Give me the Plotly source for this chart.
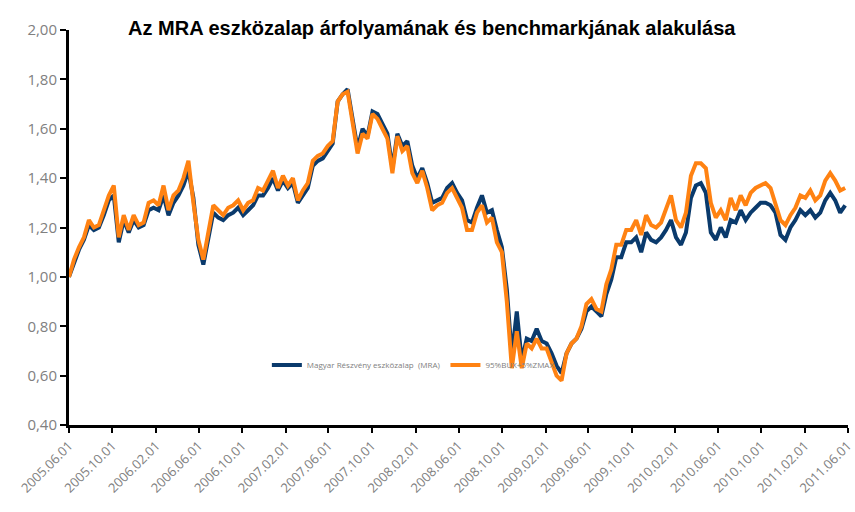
import plotly.graph_objects as go
import pandas as pd

# Magyar Részvény eszközalap (MRA) - biweekly readings from 2005.06.01
mra = [1.00, 1.06, 1.11, 1.15, 1.21, 1.19, 1.20, 1.25, 1.31, 1.33,
       1.14, 1.23, 1.18, 1.23, 1.20, 1.21, 1.27, 1.28, 1.27, 1.33,
       1.25, 1.30, 1.33, 1.37, 1.43, 1.32, 1.13, 1.05, 1.15, 1.26,
       1.24, 1.23, 1.25, 1.26, 1.28, 1.25, 1.27, 1.29, 1.33, 1.33,
       1.36, 1.40, 1.35, 1.39, 1.36, 1.38, 1.30, 1.33, 1.36, 1.45,
       1.47, 1.48, 1.51, 1.54, 1.71, 1.74, 1.76, 1.65, 1.52, 1.60,
       1.57, 1.67, 1.66, 1.62, 1.58, 1.44, 1.58, 1.53, 1.55, 1.45,
       1.40, 1.44, 1.38, 1.30, 1.31, 1.32, 1.36, 1.38, 1.34, 1.31,
       1.23, 1.22, 1.28, 1.33, 1.26, 1.27, 1.19, 1.12, 0.95, 0.68,
       0.86, 0.66, 0.75, 0.74, 0.79, 0.74, 0.73, 0.69, 0.64, 0.61,
       0.69, 0.73, 0.75, 0.79, 0.86, 0.88, 0.86, 0.84, 0.93, 0.99,
       1.08, 1.08, 1.14, 1.14, 1.16, 1.10, 1.18, 1.15, 1.14, 1.16,
       1.19, 1.23, 1.16, 1.13, 1.18, 1.32, 1.37, 1.38, 1.34, 1.18,
       1.15, 1.20, 1.16, 1.23, 1.22, 1.27, 1.23, 1.26, 1.28, 1.30,
       1.30, 1.29, 1.26, 1.17, 1.15, 1.20, 1.23, 1.27, 1.25, 1.27,
       1.24, 1.26, 1.31, 1.34, 1.31, 1.26, 1.29]

# benchmark: 95%BUX+5%ZMAX
benchmark = [1.00, 1.07, 1.12, 1.16, 1.23, 1.20, 1.21, 1.27, 1.33, 1.37,
             1.16, 1.25, 1.19, 1.25, 1.21, 1.22, 1.30, 1.31, 1.29, 1.37,
             1.27, 1.33, 1.35, 1.40, 1.47, 1.30, 1.15, 1.07, 1.18, 1.29,
             1.27, 1.25, 1.28, 1.29, 1.31, 1.27, 1.30, 1.31, 1.36, 1.35,
             1.39, 1.43, 1.36, 1.41, 1.37, 1.40, 1.31, 1.35, 1.38, 1.47,
             1.49, 1.50, 1.53, 1.55, 1.71, 1.74, 1.75, 1.63, 1.50, 1.58,
             1.56, 1.66, 1.64, 1.60, 1.56, 1.42, 1.57, 1.51, 1.53, 1.42,
             1.38, 1.43, 1.36, 1.27, 1.29, 1.30, 1.34, 1.36, 1.32, 1.28,
             1.19, 1.19, 1.26, 1.29, 1.22, 1.24, 1.14, 1.10, 0.90, 0.63,
             0.78, 0.63, 0.73, 0.71, 0.75, 0.71, 0.71, 0.66, 0.60, 0.58,
             0.69, 0.73, 0.75, 0.80, 0.89, 0.91, 0.87, 0.86, 0.97, 1.03,
             1.13, 1.13, 1.19, 1.19, 1.23, 1.17, 1.25, 1.21, 1.20, 1.22,
             1.27, 1.33, 1.23, 1.20, 1.26, 1.41, 1.46, 1.46, 1.44, 1.30,
             1.24, 1.27, 1.23, 1.32, 1.27, 1.33, 1.29, 1.34, 1.36, 1.37,
             1.38, 1.36, 1.29, 1.23, 1.21, 1.25, 1.28, 1.33, 1.32, 1.35,
             1.31, 1.33, 1.39, 1.42, 1.39, 1.35, 1.36]

dates = pd.date_range("2005-06-01", periods=len(mra), freq="14D")

tick_labels = ["2005.06.01", "2005.10.01", "2006.02.01", "2006.06.01",
               "2006.10.01", "2007.02.01", "2007.06.01", "2007.10.01",
               "2008.02.01", "2008.06.01", "2008.10.01", "2009.02.01",
               "2009.06.01", "2009.10.01", "2010.02.01", "2010.06.01",
               "2010.10.01", "2011.02.01", "2011.06.01"]
tick_dates = [pd.Timestamp(t.replace(".", "-")) for t in tick_labels]

fig = go.Figure()
fig.add_trace(go.Scatter(x=dates, y=mra, mode="lines",
                         name="Magyar Részvény eszközalap  (MRA)",
                         line=dict(color="#0A3A6C", width=4)))
fig.add_trace(go.Scatter(x=dates, y=benchmark, mode="lines",
                         name="95%BUX+5%ZMAX",
                         line=dict(color="#FF8212", width=4)))

fig.update_layout(
    width=855, height=512,
    margin=dict(l=69, r=7, t=30, b=87),
    plot_bgcolor="white", paper_bgcolor="white",
    separators=", ",
    title=dict(text="<b>Az MRA eszközalap árfolyamának és benchmarkjának alakulása</b>",
               x=0.505, xanchor="center", y=0.945, yanchor="middle",
               font=dict(family="Liberation Sans", size=20, color="black")),
    legend=dict(orientation="h", x=0.254, y=0.152, xanchor="left", yanchor="middle",
                bgcolor="rgba(0,0,0,0)", font=dict(size=8, color="#808080"),
                itemwidth=30),
    font=dict(family="Open Sans, Liberation Sans", color="#808080"),
)

fig.update_xaxes(
    range=[tick_dates[0], pd.Timestamp("2011-06-02")],
    tickvals=tick_dates, ticktext=tick_labels, tickangle=-45,
    showline=True, linecolor="black", linewidth=3,
    ticks="outside", ticklen=5, tickwidth=2, tickcolor="black",
    showgrid=False, zeroline=False, automargin=False,
    ticklabeloverflow="allow",
    tickfont=dict(size=13, color="#808080"),
)
fig.update_yaxes(
    range=[0.40, 2.00], dtick=0.2, tickformat=".2f",
    showline=True, linecolor="black", linewidth=3,
    ticks="outside", ticklen=6, tickwidth=2, tickcolor="black",
    showgrid=False, zeroline=False, automargin=False,
    tickfont=dict(size=15, color="#808080"),
)

# page body has a default 8px margin; remove it so the figure fills the window
fig.write_html("out.html", config={"displayModeBar": False},
               post_script="document.body.style.margin='0px';")
